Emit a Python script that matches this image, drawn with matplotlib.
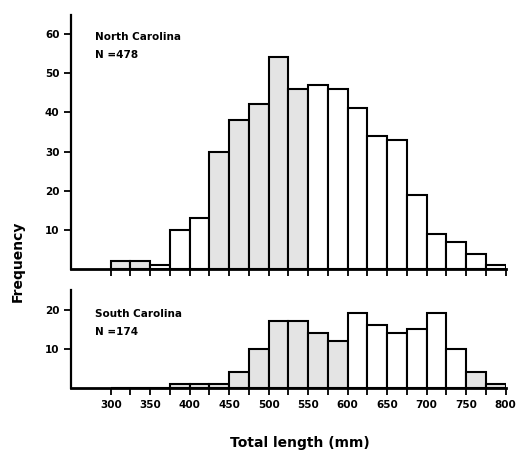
import numpy as np
import matplotlib
matplotlib.use('Agg')
import matplotlib.pyplot as plt

# Longitud total (mm), clases de 25 mm
bordes = np.arange(300, 801, 25)
inicio = bordes[:-1]

# Carolina del Norte, N=478
nc_frec = [2, 2, 1, 10, 13, 30, 38, 42, 54, 46, 47, 46, 41, 34, 33, 19, 9, 7, 4, 1]
nc_gris = [1, 1, 0, 0, 0, 1, 1, 1, 1, 1, 0, 0, 0, 0, 0, 0, 0, 0, 0, 0]

# Carolina del Sur, N=174
sc_frec = [0, 0, 0, 1, 1, 1, 4, 10, 17, 17, 14, 12, 19, 16, 14, 15, 19, 10, 4, 1]
sc_gris = [0, 0, 0, 1, 1, 1, 1, 1, 1, 1, 1, 1, 0, 0, 0, 0, 0, 0, 1, 1]

plt.rcParams['font.family'] = ['DejaVu Sans']
plt.rcParams['font.weight'] = 'bold'

fig = plt.figure(figsize=(5.16, 4.51), dpi=100)
ax1 = fig.add_axes([0.138, 0.403, 0.842, 0.563])
ax2 = fig.add_axes([0.138, 0.140, 0.842, 0.217])


def panel(ax, frec, gris, ymax, yticks, texto, ytexto):
    colores = ['#e4e4e4' if g else 'white' for g in gris]
    ax.bar(inicio, frec, width=25, align='edge', color=colores,
           edgecolor='black', linewidth=1.5)
    ax.set_xlim(250, 800)
    ax.set_ylim(0, ymax)
    ax.set_yticks(yticks)
    ax.set_xticks(bordes)
    for s in ['top', 'right']:
        ax.spines[s].set_visible(False)
    ax.spines['left'].set_linewidth(1.6)
    ax.spines['bottom'].set_linewidth(2.0)
    ax.tick_params(axis='both', direction='out', length=5, width=1.3,
                   labelsize=7.5)
    ax.text(0.055, ytexto, texto, transform=ax.transAxes,
            fontsize=7.5, fontweight='bold', va='top', linespacing=2.0)


panel(ax1, nc_frec, nc_gris, 64.7, [10, 20, 30, 40, 50, 60],
      'North Carolina\nN =478', 0.935)
panel(ax2, sc_frec, sc_gris, 25, [10, 20], 'South Carolina\nN =174', 0.81)

ax1.set_xticklabels([])
ax2.set_xticklabels([str(b) if b % 50 == 0 else '' for b in bordes])

fig.text(0.035, 0.42, 'Frequency', rotation=90, ha='center', va='center',
         fontsize=10, fontweight='bold')
fig.text(0.582, 0.018, 'Total length (mm)', ha='center', va='center',
         fontsize=10, fontweight='bold')

fig.savefig('out.png', dpi=100)
